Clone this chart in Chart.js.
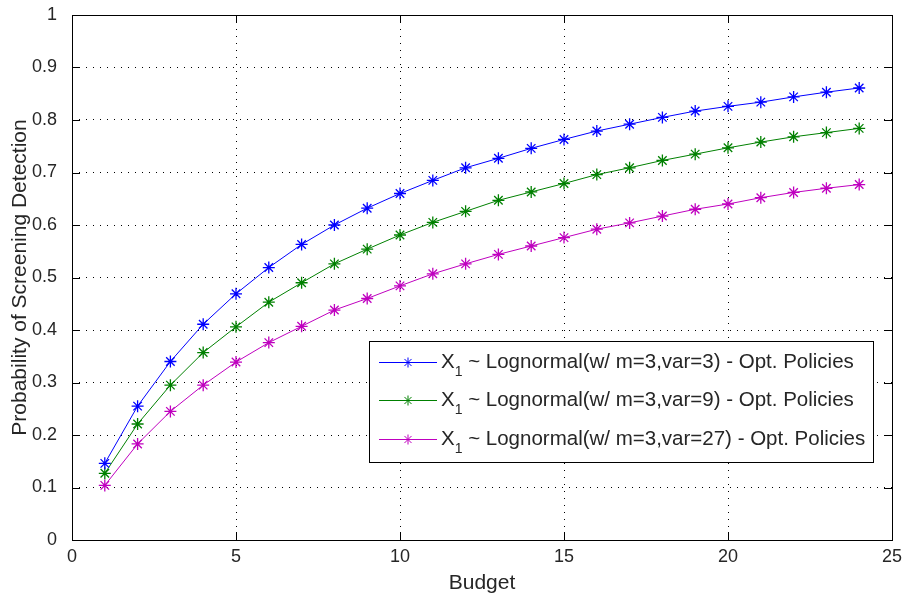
<!DOCTYPE html>
<html>
<head>
<meta charset="utf-8">
<script src="https://cdn.jsdelivr.net/npm/chart.js@4/dist/chart.umd.min.js"></script>
<style>
  html, body { margin: 0; padding: 0; background: #fff; }
  #wrap { width: 904px; height: 598px; }
</style>
</head>
<body>
<div id="wrap"><canvas id="chart" width="904" height="598"></canvas></div>
<script>
// budget levels and detection probabilities for each variance case
const budgets = [1, 2, 3, 4, 5, 6, 7, 8, 9, 10, 11, 12, 13, 14, 15, 16, 17, 18, 19, 20, 21, 22, 23, 24];
const detectVar3 = [0.146, 0.255, 0.340, 0.411, 0.469, 0.519, 0.563, 0.600, 0.632, 0.660, 0.685, 0.709,
                    0.727, 0.746, 0.763, 0.779, 0.792, 0.805, 0.817, 0.826, 0.834, 0.844, 0.853, 0.861];
const detectVar9 = [0.127, 0.221, 0.295, 0.357, 0.406, 0.453, 0.490, 0.526, 0.554, 0.581, 0.605, 0.626,
                    0.647, 0.663, 0.679, 0.696, 0.709, 0.723, 0.735, 0.747, 0.758, 0.768, 0.776, 0.784];
const detectVar27 = [0.104, 0.183, 0.245, 0.295, 0.339, 0.376, 0.407, 0.438, 0.460, 0.484, 0.507, 0.526,
                     0.544, 0.560, 0.576, 0.592, 0.604, 0.617, 0.630, 0.640, 0.652, 0.662, 0.670, 0.677];
const seriesLabels = [
  ' ~ Lognormal(w/ m=3,var=3) - Opt. Policies',
  ' ~ Lognormal(w/ m=3,var=9) - Opt. Policies',
  ' ~ Lognormal(w/ m=3,var=27) - Opt. Policies'
];
const seriesColors = ['#0000ff', '#008000', '#bf00bf'];
const xTickStep = 5, xMin = 0, xMax = 25;
const yTickStep = 0.1, yMin = 0, yMax = 1;

const FONT = "'Liberation Sans', Arial, sans-serif";
const INK = '#262626';

function toPoints(ys) { return budgets.map((b, i) => ({ x: b, y: ys[i] })); }

// box around the axes with inward tick marks on all four sides
const axesFrame = {
  id: 'axesFrame',
  beforeDatasetsDraw(chart) {
    const { ctx, chartArea: a, scales } = chart;
    const len = 8;
    ctx.save();
    ctx.strokeStyle = '#000';
    ctx.lineWidth = 1;
    ctx.beginPath();
    scales.x.ticks.forEach(t => {
      const px = Math.round(scales.x.getPixelForValue(t.value)) + 0.5;
      ctx.moveTo(px, a.bottom); ctx.lineTo(px, a.bottom - len);
      ctx.moveTo(px, a.top); ctx.lineTo(px, a.top + len);
    });
    scales.y.ticks.forEach(t => {
      const py = Math.round(scales.y.getPixelForValue(t.value)) + 0.5;
      ctx.moveTo(a.left, py); ctx.lineTo(a.left + len, py);
      ctx.moveTo(a.right, py); ctx.lineTo(a.right - len, py);
    });
    ctx.stroke();
    ctx.strokeRect(Math.round(a.left) + 0.5, Math.round(a.top) + 0.5,
                   Math.round(a.right - a.left), Math.round(a.bottom - a.top));
    ctx.restore();
  }
};

// legend box with subscripted X_1 entries
const subLegend = {
  id: 'subLegend',
  afterDraw(chart) {
    const { ctx, chartArea: a } = chart;
    const right = a.right - 19, bottom = a.bottom - 78;
    const rowH = 38.3, padTop = 21;
    const fontMain = '20.5px ' + FONT, fontSub = '14px ' + FONT;
    ctx.save();
    ctx.font = fontMain;
    const xW = ctx.measureText('X').width;
    ctx.font = fontSub;
    const subW = ctx.measureText('1').width;
    ctx.font = fontMain;
    const textW = Math.max(...seriesLabels.map(s => ctx.measureText(s).width));
    const lineLen = 58, gap = 4, padL = 10, padR = 8;
    const w = Math.round(padL + lineLen + gap + xW + subW + textW + padR);
    const h = Math.round(padTop * 2 + rowH * (seriesLabels.length - 1) + 2);
    const left = Math.round(right - w), top = Math.round(bottom - h);
    ctx.fillStyle = '#fff';
    ctx.fillRect(left, top, w, h);
    ctx.strokeStyle = '#000';
    ctx.lineWidth = 1;
    ctx.strokeRect(left + 0.5, top + 0.5, w, h);
    chart.data.datasets.forEach((ds, i) => {
      const cy = Math.round(top + padTop + i * rowH) + 0.5;
      const lx = left + padL;
      ctx.strokeStyle = ds.borderColor;
      ctx.lineWidth = 1;
      ctx.beginPath();
      ctx.moveTo(lx, cy); ctx.lineTo(lx + lineLen, cy);
      ctx.stroke();
      Chart.helpers.drawPoint(ctx, { pointStyle: 'star', radius: 5, borderWidth: 1, rotation: 0 }, lx + lineLen / 2, cy);
      ctx.fillStyle = INK;
      ctx.textBaseline = 'middle';
      ctx.textAlign = 'left';
      let tx = lx + lineLen + gap;
      ctx.font = fontMain;
      ctx.fillText('X', tx, cy);
      tx += xW;
      ctx.font = fontSub;
      ctx.fillText('1', tx, cy + 10);
      tx += subW;
      ctx.font = fontMain;
      ctx.fillText(seriesLabels[i], tx, cy);
    });
    ctx.restore();
  }
};

const datasets = [detectVar3, detectVar9, detectVar27].map((ys, i) => ({
  label: seriesLabels[i],
  data: toPoints(ys),
  borderColor: seriesColors[i],
  backgroundColor: seriesColors[i],
  borderWidth: 1,
  pointStyle: 'star',
  pointRadius: 6,
  pointBorderWidth: 1.3,
  pointHoverRadius: 6,
  tension: 0,
  fill: false
}));

new Chart(document.getElementById('chart').getContext('2d'), {
  type: 'line',
  data: { datasets },
  options: {
    responsive: false,
    animation: false,
    devicePixelRatio: 1,
    layout: { padding: { left: 0, right: 12, top: 15, bottom: 0 } },
    plugins: { legend: { display: false }, tooltip: { enabled: false } },
    scales: {
      x: {
        type: 'linear', min: xMin, max: xMax,
        ticks: { stepSize: xTickStep, color: INK, font: { family: FONT, size: 18 }, padding: 6, maxRotation: 0 },
        grid: { color: '#000', lineWidth: 1, drawTicks: false },
        border: { display: false, dash: [1, 6] },
        title: { display: true, text: 'Budget', color: INK, font: { family: FONT, size: 21 }, padding: { top: 0, bottom: 2 } },
        afterFit(scale) { scale.height = 58; scale.paddingLeft = 0; scale.paddingRight = 0; }
      },
      y: {
        type: 'linear', min: yMin, max: yMax,
        ticks: { stepSize: yTickStep, color: INK, font: { family: FONT, size: 18 }, padding: 15,
                 callback: v => String(Math.round(v * 10) / 10) },
        grid: { color: '#000', lineWidth: 1, drawTicks: false },
        border: { display: false, dash: [1, 6] },
        title: { display: true, text: 'Probability of Screening Detection', color: INK, font: { family: FONT, size: 21 }, padding: { top: 8, bottom: 0 } },
        afterFit(scale) { scale.width = 72; scale.paddingTop = 0; scale.paddingBottom = 0; }
      }
    }
  },
  plugins: [axesFrame, subLegend]
});
</script>
</body>
</html>
